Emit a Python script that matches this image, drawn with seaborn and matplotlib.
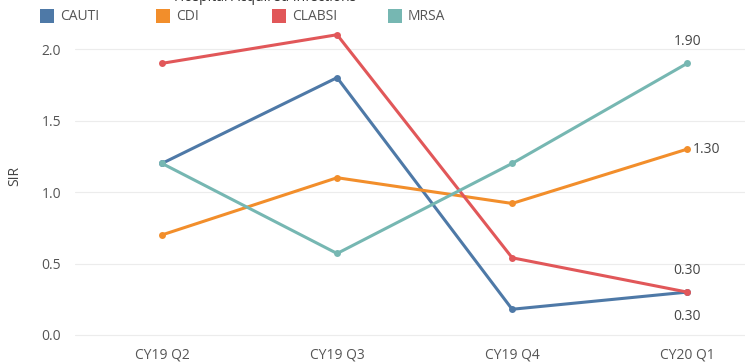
import numpy as np
import pandas as pd
import seaborn as sns
import matplotlib.pyplot as plt
from matplotlib.patches import Rectangle

# quarters and SIR values
quarters = ["CY19 Q2", "CY19 Q3", "CY19 Q4", "CY20 Q1"]
cauti = [1.20, 1.80, 0.18, 0.30]
cdi = [0.70, 1.10, 0.92, 1.30]
clabsi = [1.90, 2.10, 0.54, 0.30]
mrsa = [1.20, 0.57, 1.20, 1.90]
series = ["CAUTI", "CDI", "CLABSI", "MRSA"]
colors = ["#4E79A7", "#F28E2B", "#E15759", "#76B7B2"]

df = pd.DataFrame({
    "Quarter": quarters * 4,
    "SIR": cauti + cdi + clabsi + mrsa,
    "Infection": [s for s in series for _ in quarters],
})

sns.set_theme(style="white")
plt.rcParams['font.family'] = ['Open Sans', 'DejaVu Sans']

W, H = 756, 362
fig = plt.figure(figsize=(W / 100, H / 100), dpi=100)
ax = fig.add_axes([75 / W, (H - 345) / H, 670 / W, 337 / H])

sns.lineplot(data=df, x="Quarter", y="SIR", hue="Infection", palette=colors,
             marker="o", markersize=5, markeredgewidth=0, linewidth=2.2,
             sort=False, legend=False, ax=ax)

ax.set_xlim(-0.497, 3.33)
ax.set_ylim(-0.07, 2.287)
ax.set_yticks([0.0, 0.5, 1.0, 1.5, 2.0])
ax.set_yticklabels(["0.0", "0.5", "1.0", "1.5", "2.0"])
ax.grid(axis="y", color="#ececec", linewidth=0.8)
ax.grid(axis="x", visible=False)
for sp in ax.spines.values():
    sp.set_visible(False)
ax.tick_params(axis="both", length=0, labelsize=10, labelcolor="#555555")
ax.tick_params(axis="x", pad=2)
ax.tick_params(axis="y", pad=10)
ax.set_xlabel("")
ax.set_ylabel("SIR", fontsize=10, color="#444444", labelpad=14)

# end labels
last = len(quarters) - 1
ax.annotate(f"{mrsa[-1]:.2f}", (last, mrsa[-1]), xytext=(0, 10), textcoords="offset points",
            ha="center", va="bottom", fontsize=10, color="#444444")
ax.annotate(f"{cdi[-1]:.2f}", (last, cdi[-1]), xytext=(4, 0), textcoords="offset points",
            ha="left", va="center", fontsize=10, color="#444444")
ax.annotate(f"{clabsi[-1]:.2f}", (last, clabsi[-1]), xytext=(0, 10), textcoords="offset points",
            ha="center", va="bottom", fontsize=10, color="#444444")
ax.annotate(f"{cauti[-1]:.2f}", (last, cauti[-1]), xytext=(0, -12), textcoords="offset points",
            ha="center", va="top", fontsize=10, color="#444444")

# legend, evenly spaced like the original
for i, (name, c) in enumerate(zip(series, colors)):
    x0 = 40 + i * 116
    fig.add_artist(Rectangle((x0 / W, 1 - 23 / H), 14 / W, 14 / H,
                             transform=fig.transFigure, facecolor=c, edgecolor="none"))
    fig.text((x0 + 20) / W, 1 - 16 / H, name, ha="left", va="center",
             fontsize=10, color="#555555")

fig.text(265 / W, 1 + 2 / H, "Hospital Acquired Infections", ha="center", va="center",
         fontsize=10, color="#333333")

plt.savefig("out.png", dpi=100)
